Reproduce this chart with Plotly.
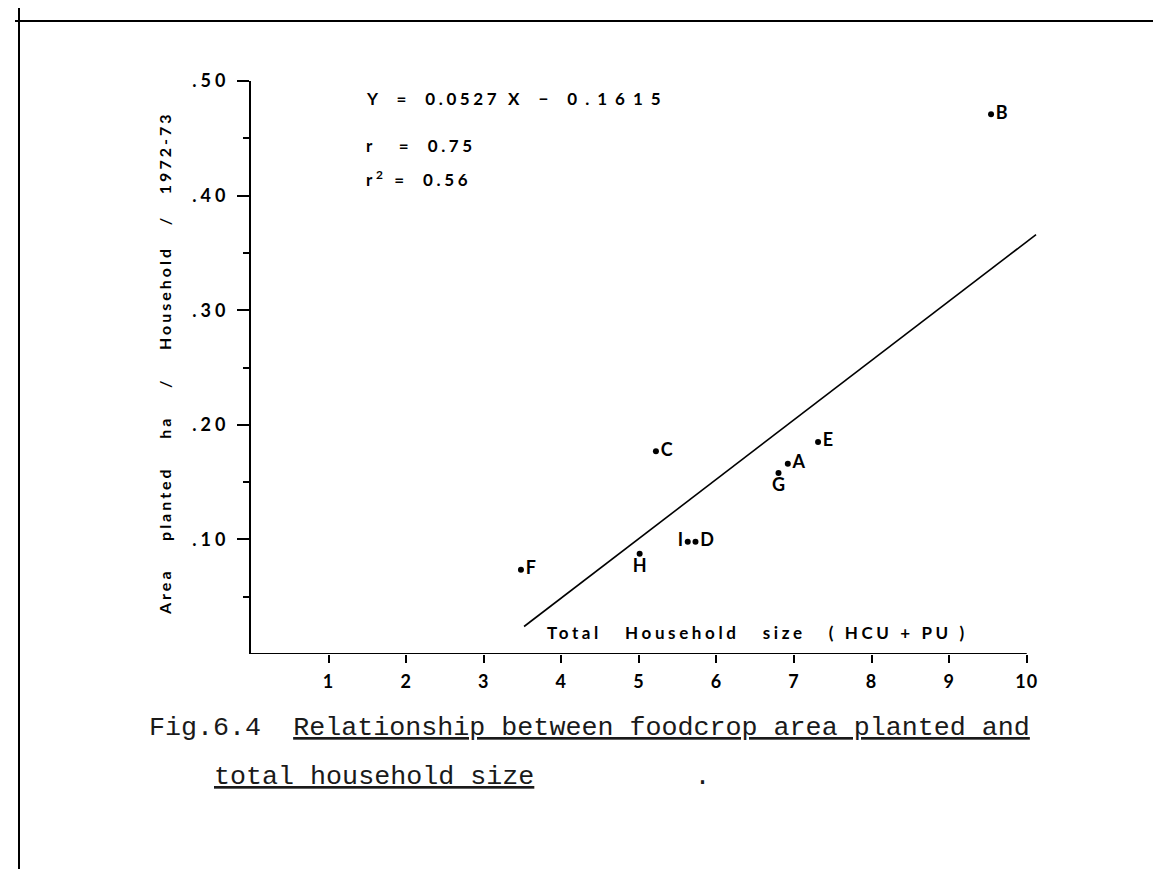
import plotly.graph_objects as go

# ---- data ----
point_labels = ["A", "B", "C", "D", "E", "F", "G", "H", "I"]
household_size = [6.92, 9.54, 5.22, 5.73, 7.31, 3.48, 6.80, 5.01, 5.63]
area_planted = [0.166, 0.471, 0.177, 0.098, 0.185, 0.0736, 0.158, 0.0875, 0.098]
label_positions = ["middle right", "middle right", "middle right", "middle right",
                   "middle right", "middle right", "bottom center", "bottom center",
                   "middle left"]

reg_x = [3.52, 10.12]
reg_y = [0.024, 0.366]

x_tickvals = [1, 2, 3, 4, 5, 6, 7, 8, 9, 10]
x_ticktext = ["1", "2", "3", "4", "5", "6", "7", "8", "9", "10"]
y_tickvals = [0.1, 0.2, 0.3, 0.4, 0.5]
y_ticktext = [".10", ".20", ".30", ".40", ".50"]
y_minor = [0.05, 0.15, 0.25, 0.35, 0.45]

SANS = "Lato"
MONO = "Liberation Mono"
NB = "\u00a0"


def spaced(s, ls):
    return f'<span style="letter-spacing:{ls}px">{s}</span>'


fig = go.Figure()

fig.add_trace(go.Scatter(
    x=reg_x, y=reg_y, mode="lines",
    line=dict(color="black", width=1.6),
    hoverinfo="skip", showlegend=False,
))

fig.add_trace(go.Scatter(
    x=household_size, y=area_planted, mode="markers+text",
    text=point_labels, textposition=label_positions,
    textfont=dict(family=SANS, size=18, color="black", weight="bold"),
    marker=dict(color="black", size=6),
    cliponaxis=False, showlegend=False,
))

W, H = 1161, 869
L, R, T, B = 243, 119, 73, 223
pw, ph = W - L - R, H - T - B


def px(xp):
    return (xp - L) / pw


def py(yp):
    return (H - B - yp) / ph


annotations = []

# regression equation block
eq_font = dict(family=SANS, size=17, color="black", weight="bold")
annotations.append(dict(
    text=spaced(f"Y{NB}{NB}={NB}{NB}0.0527{NB}X{NB}{NB}−{NB}{NB}", 3.6) + spaced("0.1615", 8),
    x=px(356), y=py(90), xref="paper", yref="paper",
    xanchor="left", yanchor="middle", showarrow=False, font=eq_font))
annotations.append(dict(
    text=spaced(f"r{NB}{NB}{NB}={NB}{NB}0.75", 3.6),
    x=px(356), y=py(137), xref="paper", yref="paper",
    xanchor="left", yanchor="middle", showarrow=False, font=eq_font))
annotations.append(dict(
    text=spaced(f"r<sup>2</sup>{NB}={NB}{NB}0.56", 3.6),
    x=px(356), y=py(170), xref="paper", yref="paper",
    xanchor="left", yanchor="middle", showarrow=False, font=eq_font))

# axis titles
annotations.append(dict(
    text=spaced(f"Total{NB}{NB}{NB}Household{NB}{NB}{NB}size{NB}{NB}{NB}({NB}HCU{NB}+{NB}PU{NB})", 3.6),
    x=px(749), y=py(624), xref="paper", yref="paper",
    xanchor="center", yanchor="middle", showarrow=False,
    font=dict(family=SANS, size=17, color="black", weight="bold")))
annotations.append(dict(
    text=spaced(f"Area{NB}{NB}{NB}{NB}planted{NB}{NB}{NB}{NB}ha{NB}{NB}{NB}{NB}/{NB}{NB}{NB}{NB}Household{NB}{NB}{NB}/{NB}{NB}{NB}1972-73", 3),
    x=px(157), y=py(356), xref="paper", yref="paper",
    xanchor="center", yanchor="middle", textangle=-90, showarrow=False,
    font=dict(family=SANS, size=16, color="black", weight="bold")))

# caption (typewriter)
cap_font = dict(family=MONO, size=26.7, color="#1a1a1a")
annotations.append(dict(
    text=f"Fig.6.4{NB}{NB}<u>Relationship between foodcrop area planted and</u>",
    x=px(139), y=py(720), xref="paper", yref="paper",
    xanchor="left", yanchor="middle", showarrow=False, font=cap_font))
annotations.append(dict(
    text=f"<u>total household size</u>" + NB * 10 + ".",
    x=px(204), y=py(769), xref="paper", yref="paper",
    xanchor="left", yanchor="middle", showarrow=False, font=cap_font))

shapes = [
    # x axis line from 0 to 10
    dict(type="line", xref="x", yref="y", x0=0, x1=10, y0=0, y1=0,
         line=dict(color="black", width=2)),
    # page frame lines
    dict(type="line", xref="paper", yref="paper", x0=px(11), x1=px(11),
         y0=py(0), y1=py(H), line=dict(color="black", width=2)),
    dict(type="line", xref="paper", yref="paper", x0=px(7), x1=px(W),
         y0=py(13), y1=py(13), line=dict(color="black", width=2)),
]

fig.update_layout(
    width=W, height=H,
    margin=dict(l=L, r=R, t=T, b=B, pad=0),
    paper_bgcolor="white", plot_bgcolor="white",
    showlegend=False,
    annotations=annotations,
    shapes=shapes,
    xaxis=dict(
        range=[0, 10.3], showgrid=False, zeroline=False, showline=False,
        tickmode="array", tickvals=x_tickvals,
        ticktext=[spaced(t, 1) for t in x_ticktext],
        ticks="outside", ticklen=8, tickwidth=1.5, tickcolor="black",
        ticklabelstandoff=3,
        tickfont=dict(family=SANS, size=18, color="black", weight="bold"),
    ),
    yaxis=dict(
        range=[0, 0.5], showgrid=False, zeroline=False,
        showline=True, linecolor="black", linewidth=2,
        tickmode="array", tickvals=y_tickvals,
        ticktext=[spaced(t, 4) for t in y_ticktext],
        ticks="outside", ticklen=12, tickwidth=1.5, tickcolor="black",
        ticklabelstandoff=4,
        tickfont=dict(family=SANS, size=18, color="black", weight="bold"),
        minor=dict(tickmode="array", tickvals=y_minor, ticks="outside",
                   ticklen=6, tickwidth=1.5, tickcolor="black", showgrid=False),
    ),
)

fig.write_html("out.html")
